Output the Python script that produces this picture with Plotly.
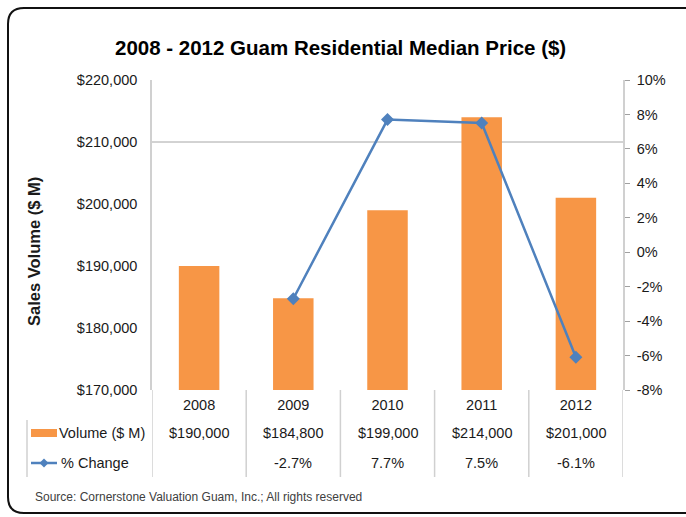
import plotly.graph_objects as go

# ---- data ----
years = ["2008", "2009", "2010", "2011", "2012"]
volume = [190000, 184800, 199000, 214000, 201000]
pct_change = [None, -2.7, 7.7, 7.5, -6.1]
pct_ticks = [-8, -6, -4, -2, 0, 2, 4, 6, 8, 10]
title_text = "2008 - 2012 Guam Residential Median Price ($)"
y_title = "Sales Volume ($ M)"
source_text = "Source: Cornerstone Valuation Guam, Inc.; All rights reserved"
bar_name = "Volume ($ M)"
line_name = "% Change"
gridline_value = 210000

W, H = 686, 517
L, R, T, B = 152, 623, 80, 390  # plot area pixel box
PW, PH = R - L, B - T


def px(x):
    return (x - L) / PW


def py(y):
    return (B - y) / PH


FONT = "Liberation Sans, Arial, sans-serif"
TXT = "#1a1a1a"
ORANGE = "#F79646"
BLUE = "#4F81BD"
AXIS = "#D0D0D0"
FS = 14.5

fig = go.Figure()
fig.add_trace(go.Bar(x=years, y=volume, name=bar_name, marker=dict(color=ORANGE, line=dict(width=0)),
                     width=0.43, showlegend=False))
fig.add_trace(go.Scatter(x=years, y=pct_change, name=line_name, yaxis="y2", mode="lines+markers",
                         line=dict(color=BLUE, width=2.5),
                         marker=dict(symbol="diamond", size=10, color=BLUE), showlegend=False))

shapes = []
# gridline
shapes.append(dict(type="line", xref="paper", yref="y", x0=0, x1=1, y0=gridline_value, y1=gridline_value,
                   line=dict(color="#A6A6A6", width=1), layer="below"))
# table separators
ty_bottom = py(477)
for i in range(len(years) + 1):
    shapes.append(dict(type="line", xref="x", yref="paper", x0=i - 0.5, x1=i - 0.5, y0=0, y1=ty_bottom,
                       line=dict(color=AXIS, width=1.5)))
shapes.append(dict(type="line", xref="paper", yref="paper", x0=px(27), x1=px(27), y0=py(420), y1=ty_bottom,
                   line=dict(color=AXIS, width=1.5)))
# legend keys
shapes.append(dict(type="rect", xref="paper", yref="paper", x0=px(31), x1=px(57), y0=py(437), y1=py(429),
                   fillcolor=ORANGE, line=dict(width=0)))
shapes.append(dict(type="line", xref="paper", yref="paper", x0=px(31), x1=px(57), y0=py(463), y1=py(463),
                   line=dict(color=BLUE, width=2.5)))
cx, cy, d = 44, 463, 4.5
shapes.append(dict(type="path", xref="paper", yref="paper",
                   path=f"M {px(cx-d)} {py(cy)} L {px(cx)} {py(cy-d)} L {px(cx+d)} {py(cy)} L {px(cx)} {py(cy+d)} Z",
                   fillcolor=BLUE, line=dict(width=0)))
# outer rounded border (right side runs off the canvas)
x0b, y0b, x1b, y1b, r = 8, 8, 730, 513, 16
path = (f"M {px(x0b+r)} {py(y0b)} L {px(x1b-r)} {py(y0b)} Q {px(x1b)} {py(y0b)} {px(x1b)} {py(y0b+r)} "
        f"L {px(x1b)} {py(y1b-r)} Q {px(x1b)} {py(y1b)} {px(x1b-r)} {py(y1b)} "
        f"L {px(x0b+r)} {py(y1b)} Q {px(x0b)} {py(y1b)} {px(x0b)} {py(y1b-r)} "
        f"L {px(x0b)} {py(y0b+r)} Q {px(x0b)} {py(y0b)} {px(x0b+r)} {py(y0b)} Z")
shapes.append(dict(type="path", xref="paper", yref="paper", path=path, line=dict(color="#111111", width=2)))

ann = []
for i, (v, c) in enumerate(zip(volume, pct_change)):
    ann.append(dict(x=i, xref="x", y=py(433), yref="paper", text=f"${v:,}", showarrow=False,
                    font=dict(family=FONT, size=FS, color=TXT), xanchor="center", yanchor="middle"))
    if c is not None:
        ann.append(dict(x=i, xref="x", y=py(463), yref="paper", text=f"{c:.1f}%", showarrow=False,
                        font=dict(family=FONT, size=FS, color=TXT), xanchor="center", yanchor="middle"))
ann.append(dict(x=px(57), xref="paper", y=py(433), yref="paper", text=bar_name, showarrow=False,
                font=dict(family=FONT, size=FS, color=TXT), xanchor="left", yanchor="middle"))
ann.append(dict(x=px(59), xref="paper", y=py(463), yref="paper", text=line_name, showarrow=False,
                font=dict(family=FONT, size=FS, color=TXT), xanchor="left", yanchor="middle"))
ann.append(dict(x=px(34), xref="paper", y=py(252), yref="paper", text=f"<b>{y_title}</b>", textangle=-90,
                showarrow=False, font=dict(family=FONT, size=16.5, color=TXT), xanchor="center", yanchor="middle"))
ann.append(dict(x=px(33), xref="paper", y=py(497), yref="paper", text=source_text, showarrow=False,
                font=dict(family=FONT, size=12, color="#404040"), xanchor="left", yanchor="middle"))
ann.append(dict(x=px(340), xref="paper", y=py(47), yref="paper", text=f"<b>{title_text}</b>", showarrow=False,
                font=dict(family=FONT, size=20.5, color="#000000"), xanchor="center", yanchor="middle"))

fig.update_layout(
    width=W, height=H,
    margin=dict(l=L, r=W - R, t=T, b=H - B, pad=0),
    paper_bgcolor="white", plot_bgcolor="white",
    xaxis=dict(type="category", range=[-0.5, len(years) - 0.5], showgrid=False, showline=False, ticks="",
               zeroline=False, tickfont=dict(family=FONT, size=FS, color=TXT), ticklabelstandoff=4),
    yaxis=dict(range=[170000, 220000], dtick=10000, tickprefix="$", tickformat=",", showgrid=False,
               showline=True, linecolor=AXIS, linewidth=1.5, ticks="", zeroline=False,
               tickfont=dict(family=FONT, size=FS, color=TXT), ticklabelstandoff=10),
    yaxis2=dict(range=[-8, 10], tickmode="array", tickvals=pct_ticks, ticktext=[f"{t}%" for t in pct_ticks],
                overlaying="y", side="right", showgrid=False,
                showline=True, linecolor=AXIS, linewidth=1.5, ticks="outside", ticklen=5, tickcolor="#A0A0A0",
                zeroline=False, tickfont=dict(family=FONT, size=FS, color=TXT), ticklabelstandoff=4),
    shapes=shapes, annotations=ann, bargap=0.57,
)

fig.write_html("out.html", config={"displayModeBar": False},
               post_script="document.body.style.margin='0px';document.body.style.overflow='hidden';")
